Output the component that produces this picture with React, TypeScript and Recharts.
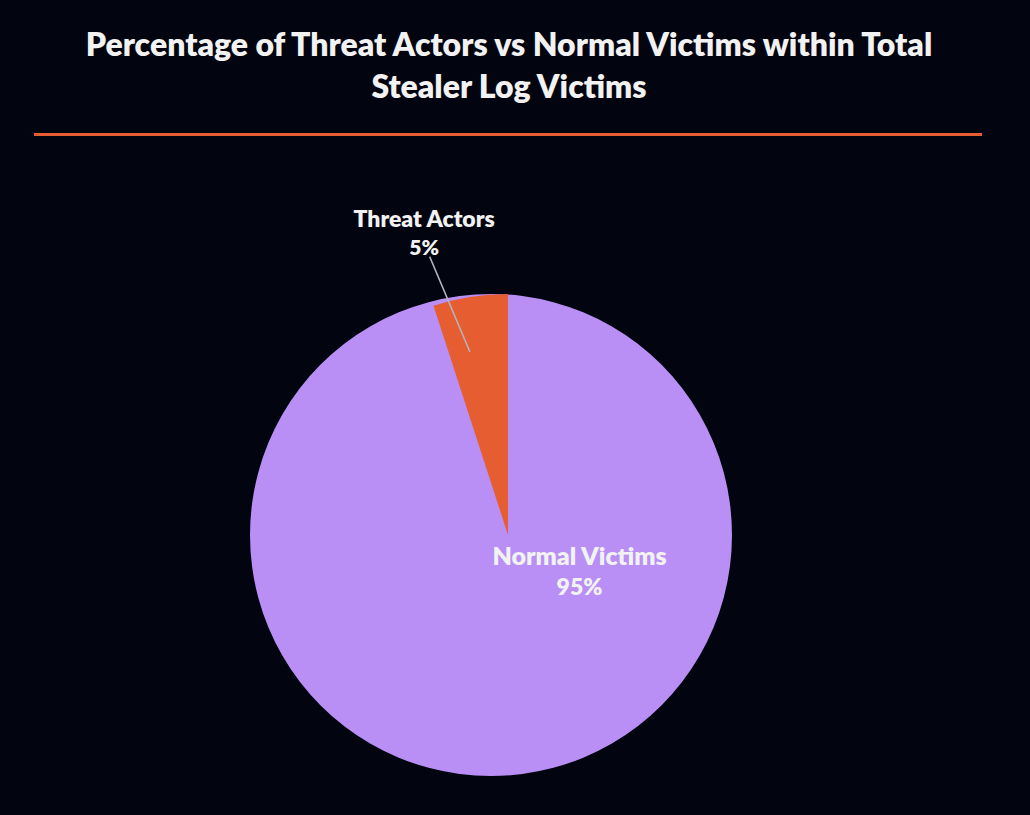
import React from 'react';
import { PieChart, Pie, Cell } from 'recharts';

const categories = ['Threat Actors', 'Normal Victims'];
const percentages = [5, 95];
const sliceColors = ['#E55D31', '#B98FF6'];
const titleLines = [
  'Percentage of Threat Actors vs Normal Victims within Total',
  'Stealer Log Victims',
];

const data = categories.map((name, i) => ({ name, value: percentages[i] }));
const discData = [{ name: 'Total', value: percentages.reduce((a, b) => a + b, 0) }];

const BG = '#02040F';
const TEXT = '#F2F2F2';
const FONT = 'Lato, "Noto Sans", sans-serif';

const renderLabel = (props: any) => {
  const { cx, cy, outerRadius, index, name, value } = props;
  const R = outerRadius;
  if (index === 0) {
    return (
      <g>
        <line
          x1={cx - 0.325 * R}
          y1={cy - 1.155 * R}
          x2={cx - 0.158 * R}
          y2={cy - 0.76 * R}
          stroke="#B4B4BC"
          strokeWidth={1.5}
        />
        <text
          x={cx - 0.348 * R}
          y={cy - 1.278 * R}
          textAnchor="middle"
          fill={TEXT}
          fontFamily={FONT}
          fontWeight={800}
          fontSize={23}
        >
          {name}
        </text>
        <text
          x={cx - 0.348 * R}
          y={cy - 1.16 * R}
          textAnchor="middle"
          fill={TEXT}
          fontFamily={FONT}
          fontWeight={800}
          fontSize={21}
        >
          {`${value}%`}
        </text>
      </g>
    );
  }
  return (
    <g>
      <text
        x={cx + 0.297 * R}
        y={cy + 0.125 * R}
        textAnchor="middle"
        fill={TEXT}
        fontFamily={FONT}
        fontWeight={800}
        fontSize={25}
      >
        {name}
      </text>
      <text
        x={cx + 0.297 * R}
        y={cy + 0.25 * R}
        textAnchor="middle"
        fill={TEXT}
        fontFamily={FONT}
        fontWeight={800}
        fontSize={23}
      >
        {`${value}%`}
      </text>
    </g>
  );
};

export default function App() {
  return (
    <div
      style={{
        position: 'absolute',
        left: 0,
        top: 0,
        width: 1030,
        height: 815,
        background: BG,
        overflow: 'hidden',
      }}
    >
      <div
        style={{
          position: 'absolute',
          left: 0,
          top: 23,
          width: 1018,
          textAlign: 'center',
          color: TEXT,
          fontFamily: FONT,
          fontWeight: 800,
          fontSize: 32,
          lineHeight: '41.5px',
        }}
      >
        {titleLines.map((t) => (
          <div key={t}>{t}</div>
        ))}
      </div>
      <div
        style={{
          position: 'absolute',
          left: 34,
          top: 133,
          width: 948,
          height: 3,
          background: sliceColors[0],
        }}
      />
      <div style={{ position: 'absolute', left: 0, top: 0 }}>
        <PieChart width={1030} height={815} margin={{ top: 0, right: 0, bottom: 0, left: 0 }}>
          <Pie
            data={discData}
            dataKey="value"
            nameKey="name"
            cx={491}
            cy={535}
            outerRadius={241}
            startAngle={90}
            endAngle={450}
            stroke="none"
            isAnimationActive={false}
          >
            {discData.map((d) => (
              <Cell key={d.name} fill={sliceColors[1]} />
            ))}
          </Pie>
          <Pie
            data={data}
            dataKey="value"
            nameKey="name"
            cx={508}
            cy={535}
            outerRadius={241}
            startAngle={90}
            endAngle={450}
            stroke="none"
            isAnimationActive={false}
            label={renderLabel}
            labelLine={false}
          >
            {data.map((d, i) => (
              <Cell key={d.name} fill={i === 0 ? sliceColors[0] : 'transparent'} />
            ))}
          </Pie>
        </PieChart>
      </div>
    </div>
  );
}
